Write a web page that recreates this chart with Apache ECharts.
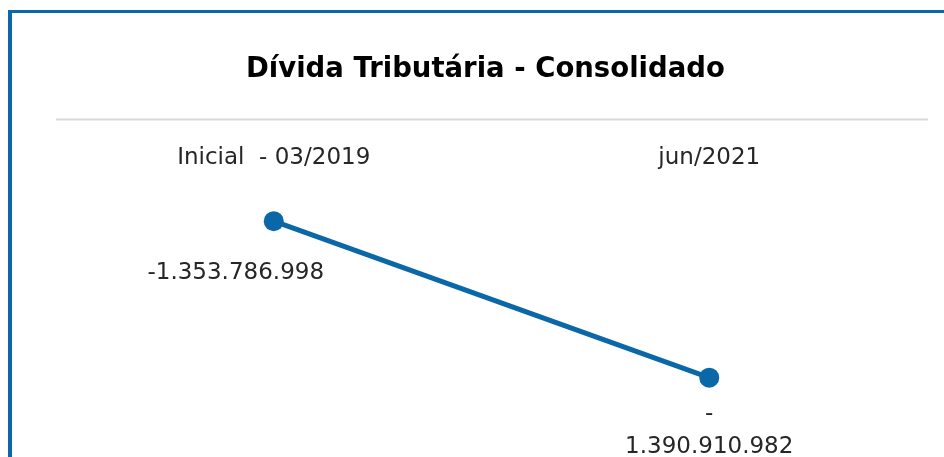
<!DOCTYPE html>
<html>
<head>
<meta charset="utf-8">
<script src="https://cdn.jsdelivr.net/npm/echarts@6/dist/echarts.min.js"></script>
<style>
  html, body { margin: 0; padding: 0; background: #fff; }
  #frame { position: absolute; left: 8px; top: 10px; width: 936px; height: 447px;
           border-left: 4px solid #0b68a8; border-top: 3px solid #0b68a8; box-sizing: border-box; }
  #chart { position: absolute; left: 0; top: 0; width: 944px; height: 457px; }
</style>
</head>
<body>
<div id="frame"></div>
<div id="chart"></div>
<script>
    'use strict';

    //////////Dados
    var chartTitle = 'Dívida Tributária - Consolidado';
    var categories = ['Inicial  - 03/2019', 'jun/2021'];
    var values = [-1353786998, -1390910982];
    // quebra de linha do rótulo como no original (so o segundo ponto)
    var labelWrap = [false, true];
    var labelOffsets = [[-38, 20], [0, 5]];
    //////////

    var blue = '#0b68a8';
    var font = '"DejaVu Sans", "Open Sans", sans-serif';

    function formatBR(v) {
        var s = Math.abs(v).toString().replace(/\B(?=(\d{3})+(?!\d))/g, '.');
        return (v < 0 ? '-' : '') + s;
    }

    var seriesData = [];
    for (var i = 0; i < values.length; i++) {
        seriesData.push({
            value: values[i],
            label: { offset: labelOffsets[i] }
        });
    }

    var chart = echarts.init(document.getElementById('chart'));
    chart.setOption({
        animation: false,
        title: {
            text: chartTitle,
            left: 241,
            top: 51,
            textStyle: { fontFamily: font, fontWeight: 'bold', fontSize: 27.5, color: '#000' }
        },
        grid: { left: 56, right: 17, top: 163, bottom: 41 },
        xAxis: {
            type: 'category',
            data: categories,
            position: 'top',
            boundaryGap: true,
            axisLine: { show: false },
            axisTick: { show: false },
            axisLabel: {
                fontFamily: font, fontSize: 23, color: '#262626',
                margin: -7
            }
        },
        yAxis: {
            type: 'value',
            min: -1400000000,
            max: -1340000000,
            show: false
        },
        graphic: [{
            type: 'line',
            shape: { x1: 56, y1: 119.5, x2: 928, y2: 119.5 },
            style: { stroke: '#d9d9d9', lineWidth: 2 }
        }],
        series: [{
            type: 'line',
            data: seriesData,
            symbol: 'circle',
            symbolSize: 20,
            itemStyle: { color: blue },
            lineStyle: { color: blue, width: 5 },
            label: {
                show: true,
                position: 'bottom',
                fontFamily: font,
                fontSize: 23,
                lineHeight: 33,
                color: '#262626',
                formatter: function (p) {
                    var t = formatBR(p.value);
                    if (labelWrap[p.dataIndex]) t = t.replace('-', '-\n');
                    return t;
                }
            }
        }]
    });
</script>
</body>
</html>
